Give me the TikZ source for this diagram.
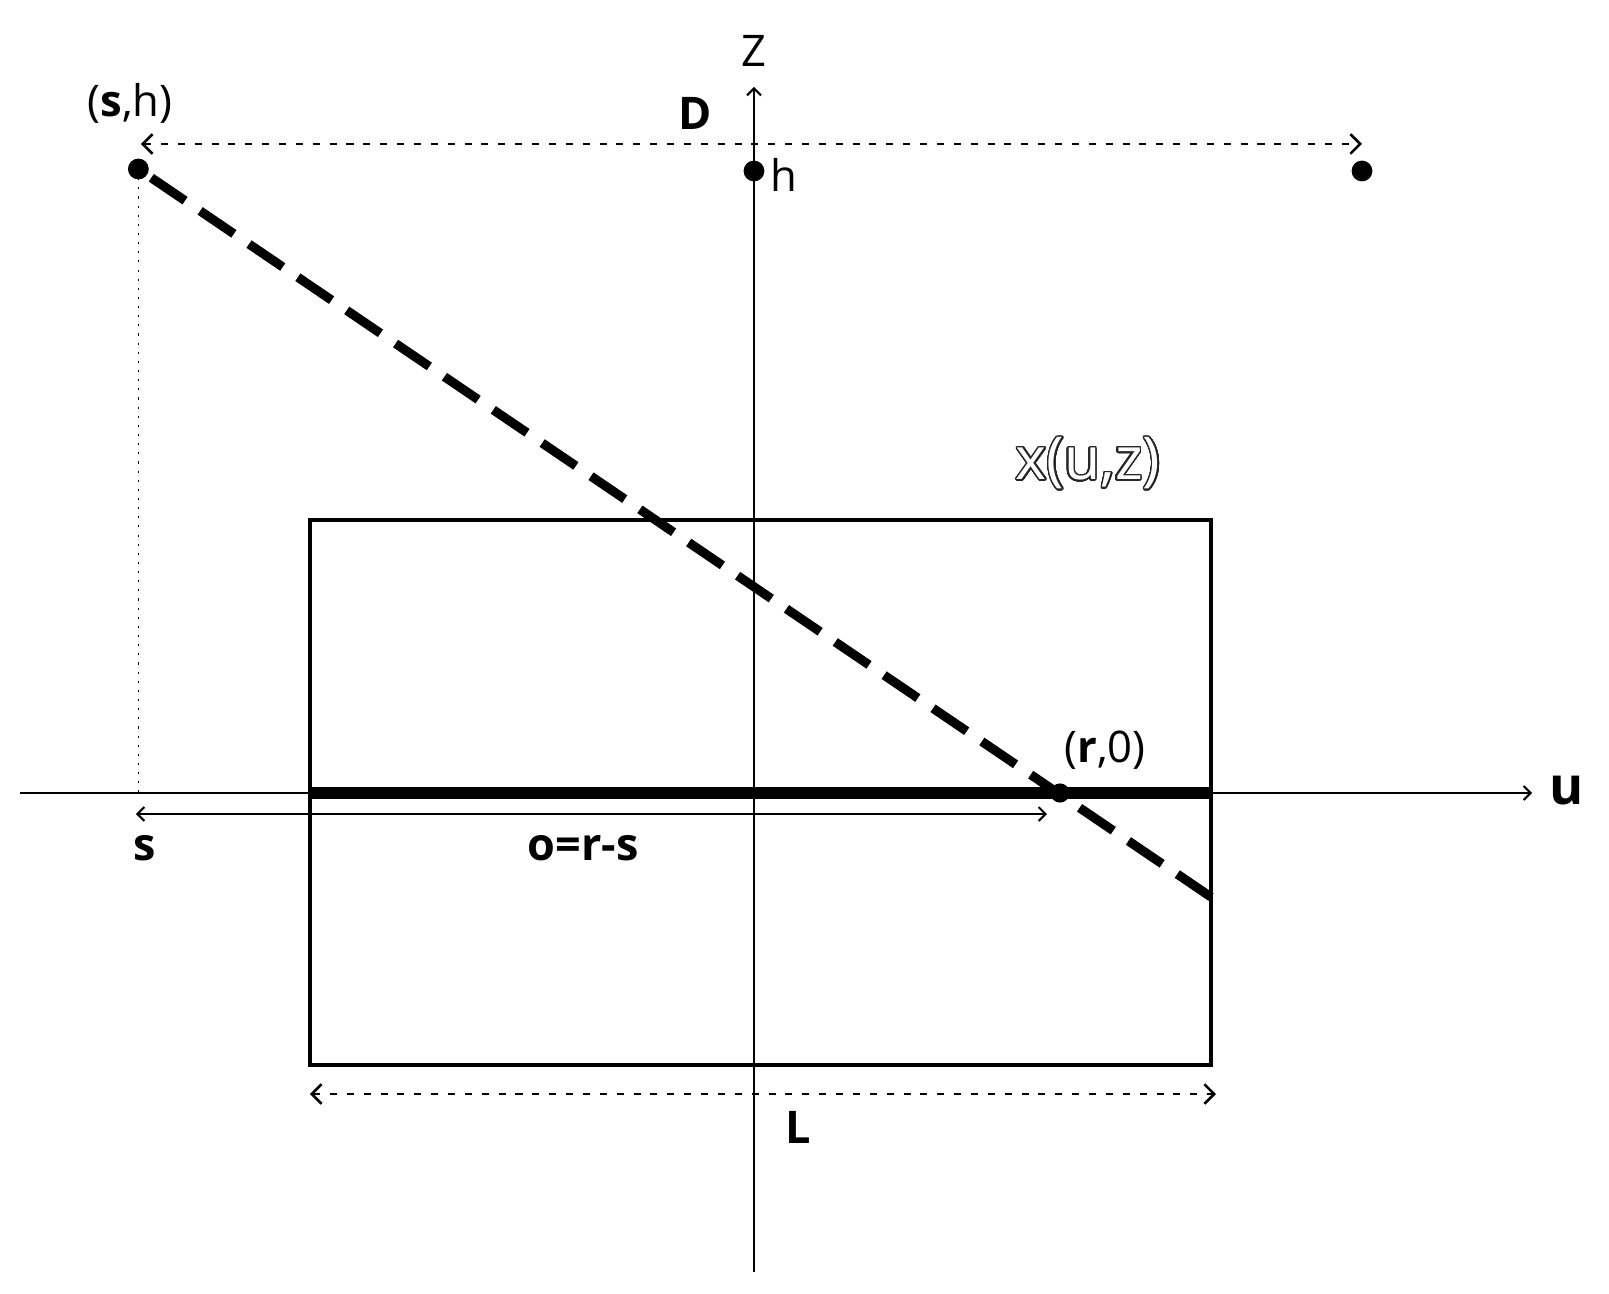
\documentclass[tikz,border=0pt]{standalone}
\usepackage{fontspec}
\setmainfont{Open Sans}
\usepackage[copies]{contour}
\usetikzlibrary{arrows.meta}
\contourlength{1.1pt}
\contournumber{32}

\begin{document}
\begin{tikzpicture}[
	axis/.style={line width=1.4pt, -{Straight Barb[length=5pt,width=10pt]}},
	offset/.style={line width=1.4pt, {Straight Barb[length=5pt,width=10pt]}-{Straight Barb[length=5pt,width=10pt]}},
	span/.style={line width=1.8pt, dash pattern=on 5pt off 7pt, {Straight Barb[length=7pt,width=14pt]}-{Straight Barb[length=7pt,width=14pt]}},
	ray/.style={line width=6.5pt, dash pattern=on 29pt off 13pt},
	dot/.style={circle, fill=black, inner sep=0pt, minimum size=0.52cm},
	lbl/.style={font=\fontsize{31}{36}\selectfont},
	blbl/.style={font=\fontsize{32}{38}\selectfont\bfseries}]
			%%%%% START %%%%%
			\useasboundingbox (-18.85,-12.525) rectangle (21.375,19.825);
			
			\coordinate (zbot) at (0,-11.975);
			\coordinate (ztop) at (0,17.65);
			\coordinate (uleft) at (-18.34,0);
			\coordinate (uright) at (19.45,0);
			\coordinate (boxsw) at (-11.1,-6.8);
			\coordinate (boxne) at (11.425,6.825);
			\coordinate (src) at (-15.39,15.6);
			\coordinate (rcv) at (7.65,0);
			\coordinate (rayend) at (11.425,-2.6);
			
			% axes
			\draw[axis] (zbot) -- (ztop);
			\draw[axis] (uleft) -- (uright);
			
			% object
			\draw[line width=2.6pt] (boxsw) rectangle (boxne);
			\draw[line width=8pt] (boxsw |- uleft) -- (boxne |- uleft);
			
			% ray and projection
			\draw[line width=1.2pt, dash pattern=on 1.5pt off 5pt] (src) -- (src |- uleft);
			\draw[ray] (rayend) -- (src);
			
			% dimensions
			\coordinate (dl) at (-15.325,16.225);
			\coordinate (dr) at (15.2,16.225);
			\draw[span] (dl) -- (dr);
			\coordinate (ol) at (-15.45,-0.525);
			\coordinate (or) at (7.325,-0.525);
			\draw[offset] (ol) -- (or);
			\coordinate (ll) at (-11.1,-7.525);
			\coordinate (lr) at (11.55,-7.525);
			\draw[span] (ll) -- (lr);
			
			% points
			\node[dot] (sh) at (src) {};
			\node[dot] (hpt) at (0,15.55) {};
			\node[dot] (far) at (15.2,15.55) {};
			\node[dot, minimum size=0.48cm] (r0) at (rcv) {};
			
			% labels
			\node[lbl] (shlbl) at (-15.6,17.25) {(\textbf{s},h)};
			\node[blbl] (Dlbl) at (-1.475,17.0) {D};
			\node[lbl] (Zlbl) at (0,18.55) {Z};
			\node[lbl] (hlbl) at (0.75,15.45) {h};
			\node[font=\fontsize{42}{48}\selectfont] (xlbl) at (8.35,8.225) {\contour{black!85}{\textcolor{white}{x(u,z)}}};
			\node[lbl] (rlbl) at (8.775,1.075) {(\textbf{r},0)};
			\node[font=\fontsize{37}{44}\selectfont\bfseries] (ulbl) at (20.325,0.05) {u};
			\node[blbl] (slbl) at (-15.225,-1.375) {s};
			\node[blbl] (olbl) at (-4.275,-1.375) {o=r-s};
			\node[blbl] (Llbl) at (1.1,-8.35) {L};
			
			%%%%% END %%%%%
\end{tikzpicture}
\end{document}
